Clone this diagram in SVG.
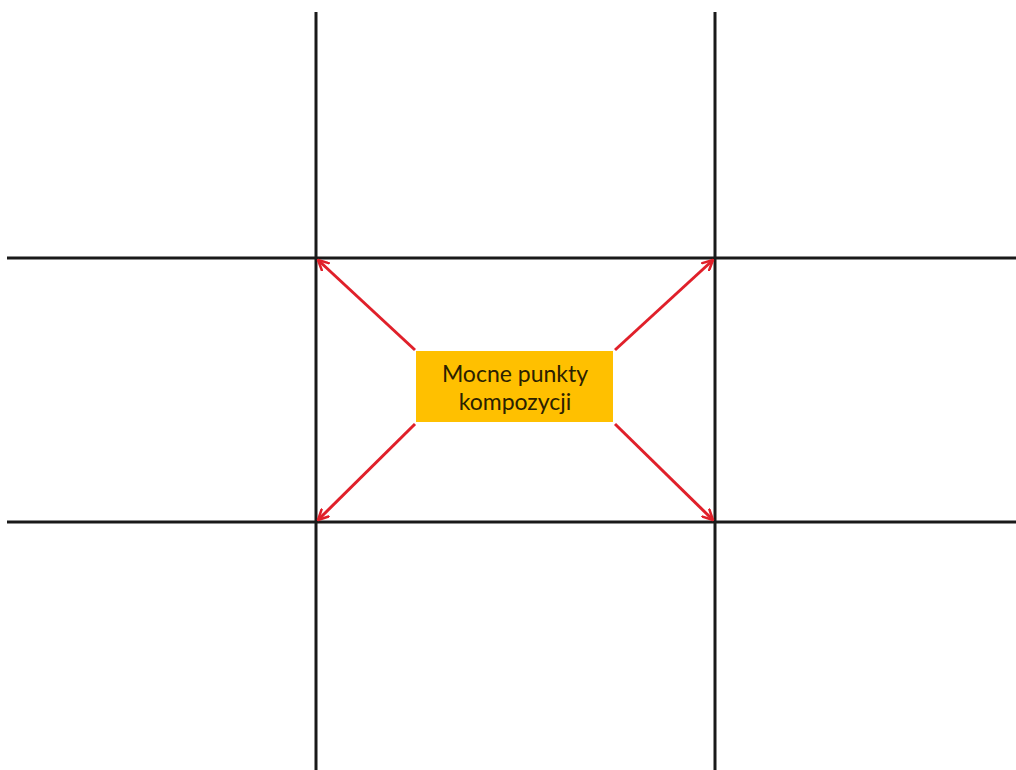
<svg xmlns="http://www.w3.org/2000/svg" width="1016" height="770" viewBox="0 0 1016 770">
<style>
.grid{stroke:#1a1a1a;stroke-width:3;fill:none}
.arrow{stroke:#e0202a;stroke-width:3;fill:none;marker-end:url(#head)}
.label{font-family:Lato,"Open Sans","Liberation Sans",sans-serif;font-size:23px;fill:#2b2100;text-anchor:middle}
</style>
<defs>
<marker id="head" viewBox="0 0 12 12" refX="11" refY="6" markerWidth="12" markerHeight="12" markerUnits="userSpaceOnUse" orient="auto">
<path d="M1,1 L11,6 L1,11" fill="none" stroke="#e0202a" stroke-width="2.5" stroke-linecap="round" stroke-linejoin="round"/>
</marker>
</defs>
<rect width="1016" height="770" fill="#ffffff"/>
<g id="grid">
<line class="grid" x1="316" y1="12" x2="316" y2="770"/>
<line class="grid" x1="715" y1="12" x2="715" y2="770"/>
<line class="grid" x1="7" y1="258" x2="1016" y2="258"/>
<line class="grid" x1="7" y1="522" x2="1016" y2="522"/>
</g>
<g id="connectors">
<line class="arrow" x1="415" y1="350" x2="318" y2="260"/>
<line class="arrow" x1="615" y1="350" x2="713" y2="260"/>
<line class="arrow" x1="415" y1="424" x2="318" y2="520"/>
<line class="arrow" x1="615" y1="424" x2="713" y2="520"/>
</g>
<g id="node-label">
<rect x="416" y="351" width="197" height="71" fill="#ffc000"/>
<text class="label" x="515" y="382">Mocne punkty</text>
<text class="label" x="515" y="410">kompozycji</text>
</g>
</svg>
